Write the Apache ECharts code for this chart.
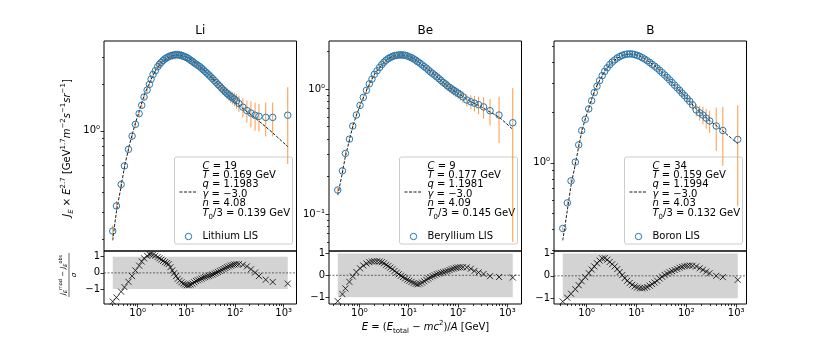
<!DOCTYPE html>
<html><head><meta charset="utf-8">
<script src="https://cdn.jsdelivr.net/npm/echarts@6/dist/echarts.min.js"></script>
<style>html,body{margin:0;padding:0;background:#fff}#c{width:830px;height:346px}</style>
</head><body><div id="c"></div>
<script>
// ---------------- data ----------------
const panelTitles = ['Li', 'Be', 'B'];
const seriesNames = ['Lithium LIS', 'Beryllium LIS', 'Boron LIS'];
const paramC = ['19', '9', '34'];
const paramT = ['0.169', '0.177', '0.159'];
const paramQ = ['1.1983', '1.1981', '1.1994'];
const paramGamma = ['−3.0', '−3.0', '−3.0'];
const paramN = ['4.08', '4.09', '4.03'];
const paramT0 = ['0.139', '0.145', '0.132'];

// Lithium: kinetic energy per nucleon [GeV], J*E^2.7, sigma, residual
const liE = [0.307,0.366,0.457,0.534,0.645,0.767,0.897,1.07,1.21,1.35,
  1.56,1.74,1.88,2.07,2.31,2.57,2.8,3.05,3.33,3.63,
  3.96,4.32,4.71,5.14,5.6,6.1,6.66,7.26,7.92,8.63,
  9.41,10.26,11.2,12.2,13.3,14.5,15.8,17.2,18.8,20.5,
  22.3,24.3,26.5,28.9,31.5,34.4,37.5,40.9,44.6,48.6,
  53,57.8,63,68.7,74.9,81.7,89.1,97.2,107,120,
  145,175,212,258,310,427,594,1210];
const liFlux = [0.226,0.328,0.451,0.594,0.759,0.924,1.10,1.29,1.46,1.65,
  1.83,1.99,2.15,2.31,2.44,2.59,2.68,2.76,2.84,2.91,
  2.96,3.0,3.04,3.06,3.08,3.09,3.09,3.08,3.06,3.03,
  3.0,2.96,2.91,2.85,2.80,2.74,2.69,2.64,2.59,2.53,
  2.47,2.41,2.35,2.29,2.23,2.17,2.11,2.05,1.99,1.94,
  1.88,1.83,1.78,1.74,1.70,1.66,1.63,1.60,1.56,1.50,
  1.42,1.35,1.30,1.26,1.24,1.22,1.22,1.26];
const liErr = [0.02,0.025,0.03,0.035,0.04,0.045,0.05,0.055,0.06,0.07,
  0.08,0.09,0.1,0.11,0.12,0.13,0.14,0.15,0.16,0.17,
  0.18,0.19,0.19,0.2,0.2,0.2,0.2,0.2,0.2,0.19,
  0.18,0.17,0.16,0.15,0.14,0.13,0.12,0.11,0.1,0.1,
  0.1,0.1,0.1,0.1,0.1,0.1,0.11,0.11,0.12,0.12,
  0.12,0.13,0.13,0.14,0.14,0.15,0.15,0.16,0.17,0.18,
  0.2,0.22,0.25,0.26,0.25,0.3,0.3,0.65];
const liRes = [-1.77,-1.51,-1.16,-0.88,-0.55,-0.2,0.15,0.45,0.7,0.9,
  1.05,1.13,1.14,1.12,1.06,0.98,0.9,0.82,0.74,0.66,
  0.6,0.54,0.35,0.15,-0.02,-0.2,-0.36,-0.48,-0.58,-0.66,
  -0.72,-0.76,-0.76,-0.72,-0.66,-0.58,-0.5,-0.45,-0.4,-0.35,
  -0.3,-0.26,-0.22,-0.18,-0.14,-0.1,-0.05,0.0,0.06,0.12,
  0.18,0.24,0.3,0.35,0.4,0.45,0.49,0.52,0.54,0.54,
  0.5,0.4,0.22,0.02,-0.2,-0.42,-0.56,-0.66];
const liModelE = [0.307,0.366,0.457,0.534,0.645,0.767,0.897,1.07,1.35,1.74,
  2.31,3.05,4.0,5.14,6.66,8.63,11.2,14.5,18.8,24.3,
  31.5,40.9,53,68.7,89.1,120,175,258,427,594,1210];
const liModelF = [0.197,0.30,0.44,0.58,0.76,0.94,1.12,1.33,1.68,2.03,
  2.43,2.74,2.94,3.04,3.07,3.03,2.93,2.77,2.60,2.42,
  2.24,2.06,1.89,1.73,1.59,1.46,1.33,1.21,1.06,0.97,0.79];

// Beryllium
const beE = [0.364,0.453,0.521,0.628,0.733,0.869,1.03,1.2,1.39,1.59,
  1.8,2.01,2.28,2.58,2.85,3.15,3.48,3.84,4.24,4.68,
  5.17,5.71,6.3,6.96,7.68,8.48,9.36,10.3,11.4,12.6,
  13.9,15.3,16.9,18.7,20.6,22.8,25.1,27.7,30.6,33.8,
  37.3,41.2,45.4,50.1,55.3,61,67.4,74.4,82.1,90.6,
  100,112,126,151,182,216,261,330,447,680,1290];
const beFlux = [0.156,0.222,0.306,0.398,0.506,0.62,0.74,0.857,0.976,1.10,
  1.20,1.31,1.40,1.49,1.57,1.64,1.70,1.75,1.79,1.82,
  1.85,1.86,1.87,1.875,1.87,1.86,1.84,1.81,1.78,1.74,
  1.70,1.65,1.61,1.56,1.51,1.47,1.42,1.37,1.33,1.29,
  1.25,1.21,1.17,1.13,1.10,1.06,1.03,1.0,0.975,0.95,
  0.925,0.90,0.865,0.817,0.79,0.77,0.75,0.72,0.671,0.62,0.538];
const beErr = [0.008,0.012,0.016,0.02,0.025,0.03,0.036,0.042,0.05,0.058,
  0.065,0.072,0.08,0.088,0.095,0.1,0.11,0.115,0.12,0.125,
  0.13,0.13,0.135,0.135,0.135,0.13,0.13,0.125,0.12,0.11,
  0.1,0.09,0.08,0.07,0.065,0.06,0.06,0.06,0.065,0.065,
  0.07,0.075,0.08,0.08,0.085,0.085,0.09,0.09,0.09,0.09,
  0.09,0.09,0.09,0.09,0.1,0.11,0.12,0.14,0.16,0.25,0.478];
const beRes = [-1.18,-0.86,-0.6,-0.3,-0.05,0.15,0.32,0.45,0.54,0.6,
  0.63,0.64,0.64,0.63,0.6,0.55,0.48,0.42,0.35,0.28,
  0.2,0.12,0.05,-0.02,-0.08,-0.14,-0.2,-0.25,-0.3,-0.35,
  -0.39,-0.41,-0.38,-0.33,-0.27,-0.21,-0.15,-0.09,-0.04,0.0,
  0.05,0.08,0.11,0.14,0.17,0.2,0.24,0.28,0.31,0.34,
  0.36,0.37,0.37,0.36,0.3,0.2,0.13,0.06,-0.04,-0.08,-0.1];
const beModelE = [0.364,0.453,0.521,0.628,0.733,0.869,1.03,1.2,1.59,2.01,
  2.58,3.48,4.68,6.3,8.48,11.4,15.3,20.6,27.7,37.3,
  50.1,67.4,90.6,126,182,261,447,680,1290];
const beModelF = [0.142,0.215,0.29,0.39,0.5,0.615,0.735,0.85,1.09,1.30,
  1.49,1.69,1.81,1.87,1.86,1.78,1.66,1.52,1.38,1.25,
  1.13,1.03,0.945,0.87,0.79,0.74,0.655,0.595,0.476];

// Boron
const bE = [0.331,0.409,0.485,0.592,0.692,0.794,0.937,1.10,1.26,1.42,
  1.61,1.82,2.05,2.3,2.58,2.9,3.25,3.65,4.1,4.6,
  5.16,5.8,6.5,7.3,8.2,9.2,10.3,11.6,13,14.6,
  16.4,18.4,20.6,23.1,25.9,29.1,32.7,36.7,41.2,46.2,
  51.8,58.2,65.3,73.3,82.2,92.3,104,117,133,158,
  185,215,250,293,398,540,1075];
const bFlux = [0.405,0.576,0.78,1.01,1.28,1.56,1.82,2.10,2.35,2.63,
  2.87,3.10,3.32,3.52,3.70,3.86,4.0,4.12,4.23,4.32,
  4.39,4.44,4.47,4.48,4.47,4.44,4.39,4.33,4.25,4.17,
  4.08,3.98,3.88,3.78,3.68,3.57,3.46,3.35,3.24,3.13,
  3.02,2.91,2.81,2.71,2.61,2.52,2.42,2.33,2.22,2.07,
  1.99,1.93,1.85,1.78,1.66,1.56,1.38];
const bErr = [0.012,0.018,0.025,0.032,0.04,0.05,0.06,0.07,0.08,0.09,
  0.1,0.11,0.12,0.13,0.14,0.15,0.16,0.17,0.18,0.19,
  0.2,0.2,0.21,0.21,0.21,0.2,0.2,0.19,0.18,0.17,
  0.16,0.15,0.14,0.13,0.12,0.12,0.11,0.11,0.11,0.11,
  0.11,0.11,0.11,0.12,0.12,0.13,0.14,0.15,0.16,0.18,
  0.2,0.23,0.25,0.27,0.48,0.6,0.83];
const bRes = [-1.15,-0.98,-0.8,-0.6,-0.42,-0.24,-0.06,0.12,0.28,0.42,
  0.56,0.68,0.78,0.79,0.72,0.62,0.52,0.42,0.3,0.17,
  0.03,-0.1,-0.22,-0.32,-0.4,-0.47,-0.52,-0.55,-0.56,-0.54,
  -0.5,-0.44,-0.37,-0.3,-0.22,-0.12,-0.04,0.04,0.1,0.16,
  0.21,0.26,0.31,0.36,0.4,0.43,0.45,0.46,0.45,0.42,
  0.34,0.27,0.19,0.12,0.0,-0.06,-0.18];
const bModelE = [0.331,0.409,0.485,0.592,0.692,0.794,0.937,1.10,1.42,1.82,
  2.58,3.65,5.16,7.3,10.3,14.6,20.6,29.1,41.2,58.2,
  82.2,117,158,215,293,398,540,1075];
const bModelF = [0.344,0.52,0.73,0.98,1.25,1.52,1.83,2.12,2.66,3.12,
  3.70,4.11,4.38,4.47,4.40,4.19,3.90,3.58,3.23,2.90,
  2.60,2.33,2.10,1.94,1.79,1.67,1.55,1.30];

// axis ranges (flux axes, residual axes)
const fluxRanges = [[0.168, 3.79], [0.0508, 2.42], [0.297, 5.35]];
const resRanges = [[-1.92, 1.35], [-1.31, 1.11], [-1.26, 1.11]];

// ---------------- chart ----------------
const FONT = 'DejaVu Sans';
const LOG = Math.log10;
const panels = [
  {E: liE, F: liFlux, S: liErr, R: liRes, mE: liModelE, mF: liModelF},
  {E: beE, F: beFlux, S: beErr, R: beRes, mE: beModelE, mF: beModelF},
  {E: bE, F: bFlux, S: bErr, R: bRes, mE: bModelE, mF: bModelF}
];
const lefts = [104, 329, 554], W = 192.5;
const TOP = 41, TOPH = 210, RTOP = 251, RH = 53;
const supDigits = '⁰¹²³⁴⁵⁶⁷⁸⁹';
const toSup = s => String(s).replace(/-/g, '⁻').replace(/\d/g, d => supDigits[+d]);
const logLabel = v => '10' + toSup(Math.round(v));

function rich(fs) {
  return {
    i: {fontFamily: FONT, fontSize: fs, fontStyle: 'italic', lineHeight: fs * 1.5, fill: '#000', color: '#000'},
    sub: {fontFamily: FONT, fontSize: fs * 0.7, verticalAlign: 'bottom', lineHeight: fs * 0.9, fill: '#000', color: '#000'},
    sup: {fontFamily: FONT, fontSize: fs * 0.7, verticalAlign: 'top', lineHeight: fs * 0.9, fill: '#000', color: '#000'},
    isub: {fontFamily: FONT, fontSize: fs * 0.7, fontStyle: 'italic', verticalAlign: 'bottom', lineHeight: fs * 0.9, fill: '#000', color: '#000'}
  };
}
function textEl(x, y, text, fs, opts) {
  opts = opts || {};
  return {
    type: 'text', x: x, y: y, rotation: opts.rotation || 0, silent: true,
    style: {
      text: text, fontFamily: FONT, fontSize: fs, lineHeight: fs * 1.5,
      fontWeight: opts.weight || 'normal', fill: '#000',
      textAlign: opts.align || 'center', textVerticalAlign: 'middle',
      rich: rich(fs)
    }
  };
}
function ticksFor(min, max) {
  const maj = [], mnr = [];
  for (let k = -3; k <= 4; k++) {
    if (k >= min && k <= max) maj.push(k);
    for (let m = 2; m <= 9; m++) { const v = k + LOG(m); if (v >= min && v <= max) mnr.push(v); }
  }
  return {maj, mnr};
}
const tickLine = {color: '#000', width: 0.8};
const lbl = {fontFamily: FONT, fontSize: 10, color: '#000'};

const grids = [], xAxes = [], yAxes = [], series = [], graphics = [];

panels.forEach((p, i) => {
  const left = lefts[i];
  const gTop = grids.length;
  grids.push({left: left, top: TOP, width: W, height: TOPH, show: true, borderColor: '#000', borderWidth: 1, backgroundColor: 'transparent'});
  const gRes = grids.length;
  grids.push({left: left, top: RTOP, width: W, height: RH, show: true, borderColor: '#000', borderWidth: 1, backgroundColor: 'transparent'});

  const lo = LOG(p.E[0]), hi = LOG(p.E[p.E.length - 1]), sp = hi - lo;
  const xmin = lo - 0.05 * sp, xmax = hi + 0.05 * sp;
  const xt = ticksFor(xmin, xmax);
  const ymin = LOG(fluxRanges[i][0]), ymax = LOG(fluxRanges[i][1]);
  const yt = ticksFor(ymin, ymax);

  const baseAx = {type: 'value', splitLine: {show: false}, axisLine: {show: false, onZero: false}};
  const xTop = xAxes.length;
  xAxes.push(Object.assign({}, baseAx, {gridIndex: gTop, min: xmin, max: xmax, position: 'bottom',
    axisTick: {show: false}, axisLabel: {show: false}}));
  const xRes = xAxes.length;
  xAxes.push(Object.assign({}, baseAx, {gridIndex: gRes, min: xmin, max: xmax, position: 'bottom',
    axisTick: {show: true, customValues: xt.maj, length: 3.5, lineStyle: tickLine},
    axisLabel: Object.assign({show: true, customValues: xt.maj, margin: 4, formatter: logLabel}, lbl)}));
  xAxes.push(Object.assign({}, baseAx, {gridIndex: gRes, min: xmin, max: xmax, position: 'bottom',
    axisTick: {show: true, customValues: xt.mnr, length: 2, lineStyle: tickLine}, axisLabel: {show: false}}));

  const yTop = yAxes.length;
  yAxes.push(Object.assign({}, baseAx, {gridIndex: gTop, min: ymin, max: ymax, position: 'left',
    axisTick: {show: true, customValues: yt.maj, length: 3.5, lineStyle: tickLine},
    axisLabel: Object.assign({show: true, customValues: yt.maj, margin: 4, formatter: logLabel}, lbl)}));
  yAxes.push(Object.assign({}, baseAx, {gridIndex: gTop, min: ymin, max: ymax, position: 'left',
    axisTick: {show: true, customValues: yt.mnr, length: 2, lineStyle: tickLine}, axisLabel: {show: false}}));
  const yRes = yAxes.length;
  yAxes.push(Object.assign({}, baseAx, {gridIndex: gRes, min: resRanges[i][0], max: resRanges[i][1], position: 'left',
    axisTick: {show: true, customValues: [-1, 0, 1], length: 3.5, lineStyle: tickLine},
    axisLabel: Object.assign({show: true, customValues: [-1, 0, 1], margin: 4,
      formatter: v => (Math.round(v) < 0 ? '−' + Math.abs(Math.round(v)) : String(Math.round(v)))}, lbl)}));

  // error bars
  series.push({
    type: 'custom', xAxisIndex: xTop, yAxisIndex: yTop, clip: true, z: 1, silent: true,
    data: p.E.map((e, j) => [LOG(e), LOG(Math.max(p.F[j] - p.S[j], 1e-4)), LOG(p.F[j] + p.S[j])]),
    encode: {x: 0, y: [1, 2]},
    renderItem: (params, api) => {
      const a = api.coord([api.value(0), api.value(1)]);
      const b = api.coord([api.value(0), api.value(2)]);
      return {type: 'line', shape: {x1: a[0], y1: a[1], x2: b[0], y2: b[1]},
        style: {stroke: 'rgba(255,127,14,0.8)', lineWidth: 1}};
    }
  });
  // model
  series.push({
    type: 'line', xAxisIndex: xTop, yAxisIndex: yTop, z: 2, silent: true,
    symbol: 'none', smooth: 0.3, clip: true,
    data: p.mE.map((e, j) => [LOG(e), LOG(p.mF[j])]),
    lineStyle: {color: '#000', width: 0.9, type: [3, 1.5]}
  });
  // LIS points
  series.push({
    type: 'scatter', xAxisIndex: xTop, yAxisIndex: yTop, z: 3, silent: true,
    symbol: 'circle', symbolSize: 6.5,
    data: p.E.map((e, j) => [LOG(e), LOG(p.F[j])]),
    itemStyle: {color: 'rgba(0,0,0,0)', borderColor: '#1f77b4', borderWidth: 1, opacity: 1}
  });
  // residual band
  series.push({
    type: 'custom', xAxisIndex: xRes, yAxisIndex: yRes, z: 1, silent: true, clip: true,
    data: [[lo, hi]],
    renderItem: (params, api) => {
      const a = api.coord([api.value(0), 1]);
      const b = api.coord([api.value(1), -1]);
      return {type: 'rect', shape: {x: a[0], y: a[1], width: b[0] - a[0], height: b[1] - a[1]},
        style: {fill: '#d3d3d3'}};
    }
  });
  // zero line
  series.push({
    type: 'custom', xAxisIndex: xRes, yAxisIndex: yRes, z: 2, silent: true, clip: true,
    data: [[xmin, xmax]],
    renderItem: (params, api) => {
      const a = api.coord([api.value(0), 0]);
      const b = api.coord([api.value(1), 0]);
      return {type: 'line', shape: {x1: a[0], y1: a[1], x2: b[0], y2: b[1]},
        style: {stroke: '#333', lineWidth: 0.7, lineDash: [2, 1.5]}};
    }
  });
  // residual markers
  series.push({
    type: 'scatter', xAxisIndex: xRes, yAxisIndex: yRes, z: 3, silent: true, clip: true,
    symbol: 'path://M0,0L10,10M10,0L0,10', symbolSize: 6,
    data: p.E.map((e, j) => [LOG(e), p.R[j]]),
    itemStyle: {color: 'rgba(0,0,0,0)', borderColor: '#000', borderWidth: 0.8, opacity: 1}
  });

  // title
  graphics.push(textEl(left + W / 2, 31, panelTitles[i], 12));

  // legend
  const bw = 118, bh = 87;
  const bx = left + W - 4 - bw, by = 157;
  const lines = [
    '{i|C} = ' + paramC[i],
    '{i|T} = ' + paramT[i] + ' GeV',
    '{i|q} = ' + paramQ[i],
    '{i|γ} = ' + paramGamma[i],
    '{i|n} = ' + paramN[i],
    '{i|T}{sub|0}/3 = ' + paramT0[i] + ' GeV'
  ];
  const children = [
    {type: 'rect', shape: {x: 0, y: 0, width: bw, height: bh, r: 2},
      style: {fill: 'rgba(255,255,255,0.8)', stroke: '#cccccc', lineWidth: 1}},
    {type: 'line', shape: {x1: 5, y1: 35, x2: 22, y2: 35},
      style: {stroke: '#000', lineWidth: 0.9, lineDash: [3, 1.5]}},
    {type: 'circle', shape: {cx: 14, cy: 79.5, r: 3.2},
      style: {fill: 'rgba(0,0,0,0)', stroke: '#1f77b4', lineWidth: 1}}
  ];
  lines.forEach((t, k) => children.push(textEl(28, 9 + 9.4 * k, t, 10, {align: 'left'})));
  children.push(textEl(28, 79.5, seriesNames[i], 10, {align: 'left'}));
  graphics.push({type: 'group', x: bx, y: by, silent: true, children: children});
});

// axis titles
graphics.push(textEl(67, 148, '{i|J}{isub|E} × {i|E}{sup|2.7} [GeV{sup|1.7}{i|m}{sup|−2}{i|s}{sup|−1}{i|sr}{sup|−1}]', 10, {rotation: Math.PI / 2}));
graphics.push(textEl(425.5, 327, '{i|E} = ({i|E}{sub|total} − {i|mc}{sup|2})/{i|A} [GeV]', 10));
graphics.push({
  type: 'group', x: 69, y: 275, rotation: Math.PI / 2, silent: true,
  children: [
    textEl(0, -6, '{i|J}{isub|E}{sup|mod} − {i|J}{isub|E}{sup|obs}', 7),
    {type: 'line', shape: {x1: -22, y1: 0, x2: 22, y2: 0}, style: {stroke: '#000', lineWidth: 0.6}},
    textEl(0, 5, '{i|σ}', 7)
  ]
});

const chart = echarts.init(document.getElementById('c'), null, {renderer: 'canvas'});
chart.setOption({
  animation: false,
  textStyle: {fontFamily: FONT},
  grid: grids, xAxis: xAxes, yAxis: yAxes, series: series, graphic: graphics
});
</script>
</body></html>
